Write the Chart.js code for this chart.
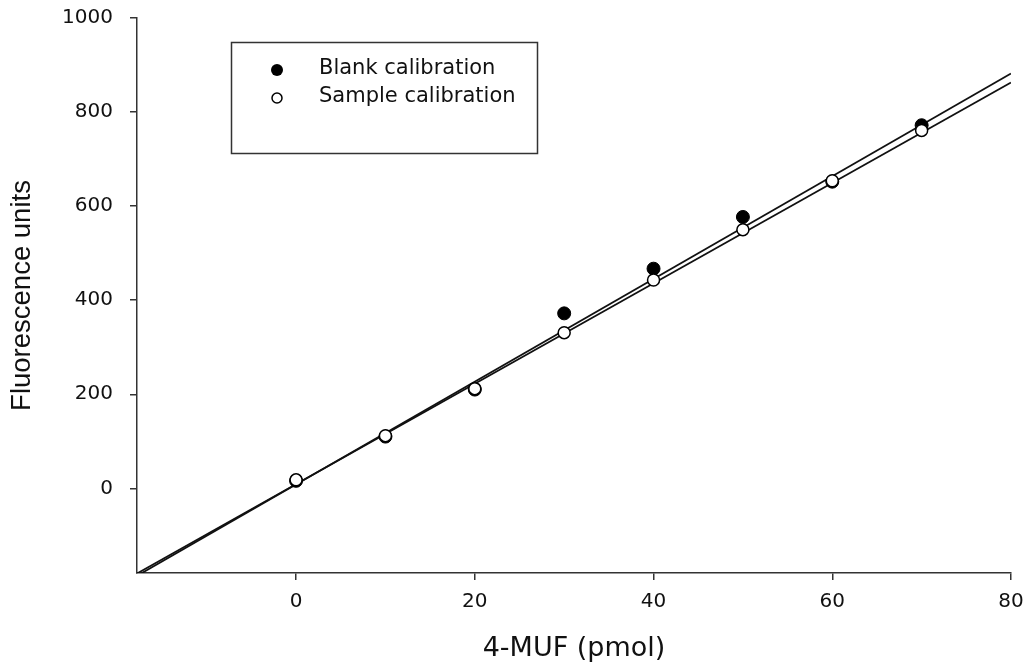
<!DOCTYPE html>
<html>
<head>
<meta charset="utf-8">
<script src="https://cdn.jsdelivr.net/npm/chart.js@4.4.1/dist/chart.umd.min.js"></script>
<style>
  html, body { margin: 0; padding: 0; background: #fff; }
  #wrap { width: 1024px; height: 666px; position: relative; }
</style>
</head>
<body>
<div id="wrap"><canvas id="chart"></canvas></div>
<script>
// pmol of 4-MUF
const pmol = [0, 10, 20, 30, 40, 50, 60, 70];
const blankUnits = [16, 110, 210, 372, 467, 577, 652, 772];
const sampleUnits = [18, 112, 212, 331, 443, 550, 654, 761];

// fitted lines, read at both ends of the x range
const fitX = [-17.8, 80];
const blankFit = [-186, 882];
const sampleFit = [-181, 863];

const xTicks = [0, 20, 40, 60, 80];
const yTicks = [0, 200, 400, 600, 800, 1000];

const legendLabels = ["Blank calibration", "Sample calibration"];

const ink = "#111";
const axisColor = "#333";

function pts(xs, ys) {
  return xs.map((x, i) => ({ x: x, y: ys[i] }));
}

const legendBox = {
  id: "legendBox",
  afterDraw(chart) {
    const ctx = chart.ctx;
    ctx.save();
    ctx.strokeStyle = axisColor;
    ctx.lineWidth = 1.5;
    ctx.strokeRect(231.5, 42.5, 306, 111);

    ctx.font = "21px 'DejaVu Sans'";
    ctx.textBaseline = "middle";
    ctx.textAlign = "left";

    // filled marker
    ctx.beginPath();
    ctx.arc(277, 70, 6, 0, Math.PI * 2);
    ctx.fillStyle = "#000";
    ctx.fill();
    ctx.fillStyle = ink;
    ctx.fillText(legendLabels[0], 319, 69);

    // open marker
    ctx.beginPath();
    ctx.arc(277, 98, 5, 0, Math.PI * 2);
    ctx.fillStyle = "#fff";
    ctx.fill();
    ctx.lineWidth = 1.5;
    ctx.strokeStyle = "#000";
    ctx.stroke();
    ctx.fillStyle = ink;
    ctx.fillText(legendLabels[1], 319, 97);
    ctx.restore();
  }
};

new Chart(document.getElementById("chart"), {
  type: "scatter",
  data: {
    datasets: [
      {
        label: legendLabels[1],
        data: pts(pmol, sampleUnits),
        pointRadius: 6,
        pointBackgroundColor: "#fff",
        pointBorderColor: "#000",
        pointBorderWidth: 1.5,
        order: 0
      },
      {
        label: legendLabels[0],
        data: pts(pmol, blankUnits),
        pointRadius: 6.5,
        pointBackgroundColor: "#000",
        pointBorderColor: "#000",
        pointBorderWidth: 1,
        order: 1
      },
      {
        type: "line",
        label: "blank fit",
        data: pts(fitX, blankFit),
        borderColor: "#111",
        borderWidth: 1.8,
        pointRadius: 0,
        order: 2
      },
      {
        type: "line",
        label: "sample fit",
        data: pts(fitX, sampleFit),
        borderColor: "#111",
        borderWidth: 1.8,
        pointRadius: 0,
        order: 3
      }
    ]
  },
  options: {
    responsive: true,
    maintainAspectRatio: false,
    animation: false,
    layout: { padding: { top: 18, right: 13, left: 0, bottom: 0 } },
    plugins: {
      legend: { display: false },
      tooltip: { enabled: false }
    },
    scales: {
      x: {
        type: "linear",
        min: fitX[0],
        max: 80,
        afterBuildTicks: s => { s.ticks = xTicks.map(v => ({ value: v })); },
        afterFit: s => { s.height = 93; s.paddingLeft = 0; s.paddingRight = 0; },
        grid: { drawOnChartArea: false, drawTicks: true, tickLength: 7, color: axisColor, lineWidth: 1.5 },
        border: { color: axisColor, width: 1.5 },
        ticks: { color: ink, font: { family: "'DejaVu Sans'", size: 20 }, padding: 10, maxRotation: 0,
                 callback: v => String(v) },
        title: {
          display: true,
          text: "4-MUF (pmol)",
          color: ink,
          font: { family: "'DejaVu Sans'", size: 27 },
          padding: { top: 10, bottom: 1 }
        }
      },
      y: {
        type: "linear",
        min: -180,
        max: 1000,
        afterBuildTicks: s => { s.ticks = yTicks.map(v => ({ value: v })); },
        afterFit: s => { s.width = 137; s.paddingTop = 0; s.paddingBottom = 0; },
        grid: { drawOnChartArea: false, drawTicks: true, tickLength: 7, color: axisColor, lineWidth: 1.5 },
        border: { color: axisColor, width: 1.5 },
        ticks: { color: ink, font: { family: "'DejaVu Sans'", size: 20 }, padding: 17,
                 callback: v => String(v) },
        title: {
          display: true,
          text: "Fluorescence units",
          color: ink,
          font: { family: "'Liberation Sans', Arial", size: 27.5 },
          padding: { top: 6, bottom: 6 }
        }
      }
    }
  },
  plugins: [legendBox]
});
</script>
</body>
</html>
